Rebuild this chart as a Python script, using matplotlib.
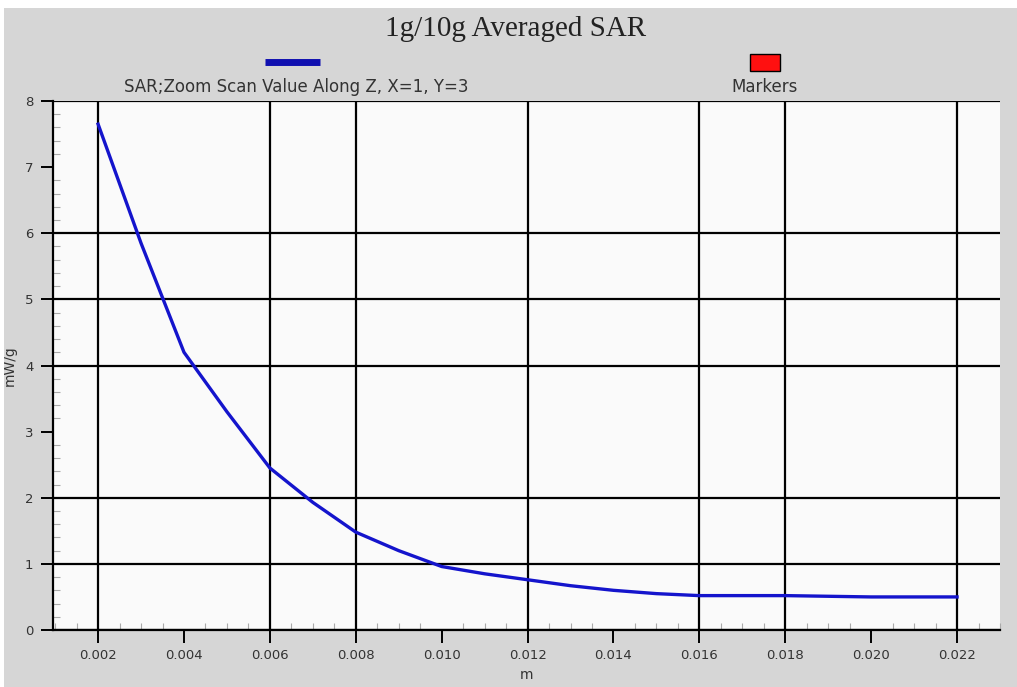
import matplotlib
matplotlib.use("Agg")
from matplotlib import pyplot as plt
from matplotlib.patches import Rectangle
from matplotlib.lines import Line2D
from matplotlib.ticker import MultipleLocator, FormatStrFormatter

# SAR zoom scan along Z (depth in m, SAR in mW/g)
depth_m = [0.002, 0.003, 0.004, 0.005, 0.006, 0.007, 0.008, 0.009, 0.010, 0.011,
           0.012, 0.013, 0.014, 0.015, 0.016, 0.017, 0.018, 0.019, 0.020, 0.021, 0.022]
sar_mw_g = [7.65, 5.85, 4.2, 3.3, 2.45, 1.93, 1.48, 1.2, 0.96, 0.85,
            0.76, 0.67, 0.6, 0.55, 0.52, 0.52, 0.52, 0.51, 0.5, 0.5, 0.5]

x_ticks = [0.002, 0.004, 0.006, 0.008, 0.010, 0.012, 0.014, 0.016, 0.018, 0.020, 0.022]
y_ticks = [0, 1, 2, 3, 4, 5, 6, 7, 8]
x_grid = [0.002, 0.006, 0.008, 0.012, 0.016, 0.018, 0.022]
y_grid = [0, 1, 2, 4, 5, 6, 8]

title = "1g/10g Averaged SAR"
series_label = "SAR;Zoom Scan Value Along Z, X=1, Y=3"
marker_label = "Markers"

BG = "#d6d6d6"
PLOT_BG = "#fafafa"
LINE = "#1414cc"

fig = plt.figure(figsize=(10.17, 6.87), dpi=100)
fig.patch.set_facecolor("white")
fig.patches.append(Rectangle((4 / 1017, 0), 1, 1 - 8 / 687, transform=fig.transFigure,
                             facecolor=BG, edgecolor="none", zorder=-10))

ax = fig.add_axes([53 / 1017, 57 / 687, 947 / 1017, 529 / 687])
ax.set_facecolor(PLOT_BG)
ax.set_xlim(0.00095, 0.0230)
ax.set_ylim(0, 8)

for gx in x_grid:
    ax.axvline(gx, color="black", lw=1.6, zorder=2)
for gy in y_grid:
    ax.axhline(gy, color="black", lw=1.6, zorder=2)

ax.plot(depth_m, sar_mw_g, color=LINE, lw=2.4, zorder=3)

for side in ["top", "right"]:
    ax.spines[side].set_visible(False)
ax.spines["left"].set_linewidth(1.6)
ax.spines["bottom"].set_linewidth(1.6)

ax.set_xticks(x_ticks)
ax.set_yticks(y_ticks)
ax.xaxis.set_major_formatter(FormatStrFormatter("%.3f"))
ax.xaxis.set_minor_locator(MultipleLocator(0.0005))
ax.yaxis.set_minor_locator(MultipleLocator(0.2))
ax.tick_params(which="major", direction="out", length=9, width=1.4, color="black",
               labelsize=9.5, labelcolor="#333333", pad=5)
ax.tick_params(which="minor", direction="in", length=5, width=0.8, color="#aaaaaa")

ax.set_xlabel("m", fontsize=10, color="#333333", labelpad=4)
ax.set_ylabel("mW/g", fontsize=10, color="#333333", labelpad=6)

fig.text(0.507, 0.958, title, ha="center", va="center", fontsize=21,
         family="Liberation Serif", color="#222222")

# legend drawn as figure artists
fig.lines.append(Line2D([265 / 1017, 320 / 1017], [1 - 62 / 687] * 2, transform=fig.transFigure,
                        color="#1010b0", lw=5, solid_capstyle="butt"))
fig.text(296 / 1017, 1 - 87 / 687, series_label, ha="center", va="center", fontsize=12,
         color="#333333")
fig.patches.append(Rectangle((750 / 1017, 1 - 71 / 687), 30 / 1017, 17 / 687,
                             transform=fig.transFigure, facecolor="#ff1010",
                             edgecolor="black", lw=1))
fig.text(765 / 1017, 1 - 87 / 687, marker_label, ha="center", va="center", fontsize=12,
         color="#333333")

fig.savefig("out.png", dpi=100, facecolor=fig.get_facecolor())
